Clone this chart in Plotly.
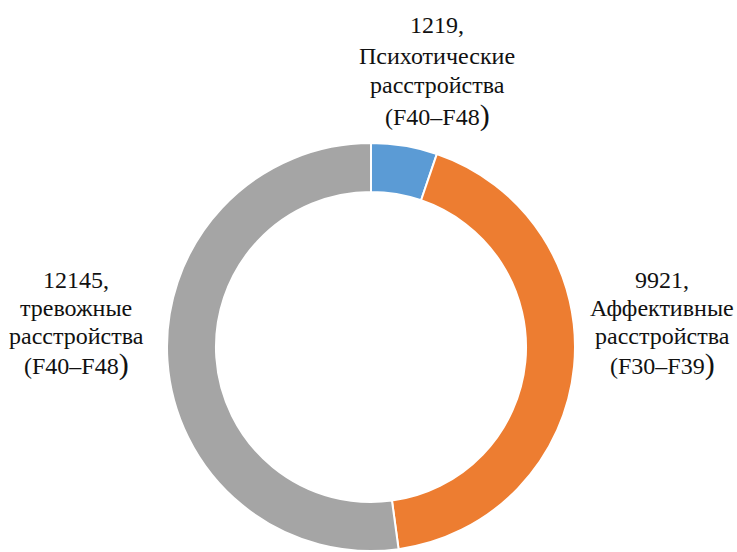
import plotly.graph_objects as go

W, H = 737, 552

labels = ["Психотические расстройства (F40–F48)",
          "Аффективные расстройства (F30–F39)",
          "тревожные расстройства (F40–F48)"]
values = [1219, 9921, 12145]
colors = ["#5B9BD5", "#ED7D31", "#A5A5A5"]

# label lines per slice (value first, then name)
value_texts = ["1219,", "9921,", "12145,"]
name_line1 = ["Психотические", "Аффективные", "тревожные"]
name_line2 = ["расстройства", "расстройства", "расстройства"]
code_texts = ["(F40–F48", "(F30–F39", "(F40–F48"]

# pixel layout of label blocks: centre x and line centre ys
label_x = [437, 662, 76]
label_ys = [[25, 56, 85, 115], [280, 308, 336, 364], [280, 308, 336, 364]]

cx, cy, r = 371, 347, 204
FONT = "Liberation Serif"

fig = go.Figure(go.Pie(
    labels=labels,
    values=values,
    marker=dict(colors=colors, line=dict(color="white", width=2)),
    hole=0.76,
    sort=False,
    direction="clockwise",
    rotation=0,
    textinfo="none",
    hoverinfo="label+value",
    domain=dict(x=[(cx - r) / W, (cx + r) / W], y=[(H - cy - r) / H, (H - cy + r) / H]),
    showlegend=False,
))

for i in range(len(values)):
    lines = [value_texts[i], name_line1[i], name_line2[i],
             code_texts[i] + "<span style='font-size:30px'>)</span>"]
    for line, py in zip(lines, label_ys[i]):
        fig.add_annotation(
            x=label_x[i] / W, y=1 - py / H, xref="paper", yref="paper",
            text=line, showarrow=False, xanchor="center", yanchor="middle",
            font=dict(family=FONT, size=24, color="#111111"),
            align="center",
        )

fig.update_layout(
    width=W, height=H,
    margin=dict(l=0, r=0, t=0, b=0),
    paper_bgcolor="white", plot_bgcolor="white",
    font=dict(family=FONT),
)

post = (
    "document.body.style.margin='0';"
    "document.body.style.overflow='hidden';"
    "try{var st=document.createElement('style');"
    "st.textContent='.annotation-text{font-family:\"Liberation Serif\",serif !important;}';"
    "document.head.appendChild(st);}catch(e){}"
)
fig.write_html("out.html", config={"displayModeBar": False}, post_script=post)
